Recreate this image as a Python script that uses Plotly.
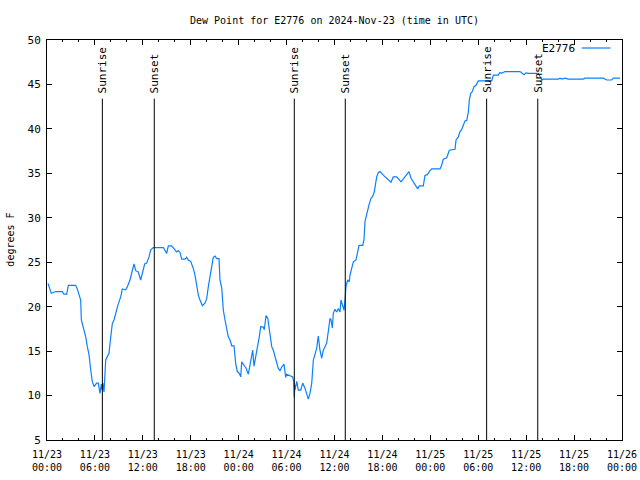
import pandas as pd
import plotly.graph_objects as go

# Hours since 2024-11-23 00:00 UTC, and dew point (degrees F)
hours = [
    0.13, 0.54, 1.09, 1.92, 2.13, 2.47, 2.67, 3.59, 3.79, 4.01, 4.22, 4.30, 4.55, 4.85,
    5.05, 5.26, 5.47, 5.67, 5.89, 6.10, 6.22, 6.42, 6.64, 6.80, 6.92, 7.00, 7.14, 7.35,
    7.76, 7.98, 8.18, 8.39, 8.60, 8.89, 9.23, 9.43, 9.85, 10.06, 10.39, 10.68, 10.89,
    11.11, 11.43, 11.73, 11.93, 12.23, 12.48, 12.77, 12.99, 13.31, 14.56, 14.78, 14.99,
    15.19, 15.61, 16.03, 16.24, 16.44, 16.65, 16.87, 17.28, 17.49, 17.69, 17.99, 18.32,
    18.53, 18.75, 18.95, 19.16, 19.45, 19.78, 20.00, 20.20, 20.41, 20.62, 20.82, 21.04,
    21.25, 21.54, 21.66, 21.88, 22.08, 22.29, 22.50, 22.70, 22.92, 23.13, 23.42, 23.63,
    23.83, 24.08, 24.26, 24.38, 24.67, 24.92, 25.21, 25.42, 25.63, 25.76, 25.92, 26.17,
    26.38, 26.58, 26.76, 27.09, 27.21, 27.42, 27.64, 27.84, 28.14, 28.34, 28.55, 28.76,
    28.96, 29.18, 29.39, 29.68, 29.89, 30.01, 30.77, 30.90, 30.97, 31.02, 31.05, 31.27,
    31.47, 31.77, 32.02, 32.31, 32.52, 32.72, 32.93, 33.15, 33.35, 33.56, 33.77, 33.97,
    34.18, 34.40, 34.60, 34.81, 35.02, 35.22, 35.44, 35.56, 35.73, 35.85, 36.06, 36.28,
    36.48, 36.69, 36.81, 37.03, 37.19, 37.32, 37.40, 37.44, 37.65, 37.85, 37.94, 38.15,
    38.36, 38.69, 38.86, 39.07, 39.53, 39.69, 39.82, 40.03, 40.23, 40.36, 40.57, 40.78,
    40.98, 41.11, 41.28, 41.49, 41.70, 42.11, 42.54, 43.08, 43.36, 43.79, 44.33, 44.83,
    45.33, 45.58, 45.87, 46.17, 46.42, 46.62, 47.12, 47.33, 47.62, 47.96, 48.17, 49.21,
    49.42, 49.62, 50.05, 50.38, 51.09, 51.22, 51.50, 51.72, 51.93, 52.13, 52.34, 52.56,
    52.76, 52.88, 53.06, 53.26, 53.47, 53.72, 54.01, 55.69, 55.89, 56.51, 56.72, 56.94,
    57.35, 59.23, 59.44, 59.73, 59.98, 60.27, 61.52, 61.73, 61.95, 62.15, 64.03, 64.24,
    64.45, 64.86, 65.28, 67.16, 67.37, 69.66, 70.09, 70.71, 70.91, 71.75,
]
dewpoint = [
    22.6, 21.5, 21.7, 21.7, 21.4, 21.4, 22.4, 22.4, 22.0, 21.3, 20.75, 18.5, 17.6, 16.6,
    15.5, 14.6, 12.9, 11.6, 11.0, 11.2, 11.4, 11.4, 10.25, 11.3, 10.6, 11.4, 10.4, 14.0,
    14.75, 16.6, 18.1, 18.5, 19.25, 20.2, 21.1, 22.0, 21.9, 22.25, 23.0, 23.9, 24.8,
    24.05, 23.9, 23.0, 23.7, 24.8, 24.9, 25.6, 26.4, 26.65, 26.65, 26.25, 26.0,
    26.85, 26.85, 26.4, 26.15, 26.3, 26.1, 25.35, 25.35, 25.55, 25.25, 25.1, 24.3,
    23.55, 22.4, 21.3, 20.75, 20.1, 20.4, 20.9, 22.25, 23.4, 24.7, 25.55, 25.7,
    25.4, 25.4, 23.0, 22.1, 19.6, 18.5, 17.4, 16.6, 16.25, 15.6, 15.6, 13.6,
    12.7, 12.5, 12.1, 13.8, 13.4, 13.1, 12.4, 13.4, 14.75, 15.1, 13.3, 14.45,
    15.7, 16.6, 17.75, 17.7, 17.4, 19.0, 18.7, 17.2, 15.5, 15.1, 14.4, 13.4,
    13.05, 12.8, 13.2, 13.55, 12.05, 12.4, 12.1, 11.5, 9.8, 11.2, 10.6, 11.6,
    10.6, 10.6, 11.4, 10.8, 10.1, 9.6, 10.25, 11.4, 14.0, 14.8, 15.3, 16.7,
    15.1, 14.2, 15.1, 15.5, 15.9, 17.2, 18.7, 18.5, 17.6, 19.25, 19.7, 19.4,
    19.8, 19.4, 20.75, 20.1, 19.6, 20.8, 21.4, 22.3, 23.0, 22.8, 23.55, 24.5,
    25.05, 25.25, 26.0, 26.9, 26.9, 27.5, 29.6, 30.5, 31.1, 31.6, 32.2, 32.4,
    32.9, 33.7, 34.6, 35.1, 35.2, 34.8, 34.45, 34.0, 34.6, 34.6, 34.05, 34.6,
    35.2, 34.45, 34.05, 33.7, 33.25, 33.6, 33.6, 34.75, 34.85, 35.3, 35.5, 35.5,
    35.9, 36.6, 36.75, 37.6, 37.7, 38.75, 39.1, 39.7, 39.95, 40.4, 40.9, 40.95,
    41.9, 43.25, 44.0, 44.2, 44.75, 44.9, 45.4, 45.4, 46.05, 46.05, 46.35, 46.25,
    46.45, 46.45, 46.3, 46.1, 46.3, 46.25, 46.25, 45.9, 45.5, 45.6, 45.6, 45.7,
    45.6, 45.7, 45.6, 45.6, 45.7, 45.7, 45.5, 45.5, 45.7, 45.7,
]

event_times = ["2024-11-23 06:56", "2024-11-23 13:26", "2024-11-24 06:58",
               "2024-11-24 13:21", "2024-11-25 07:03", "2024-11-25 13:27"]
event_labels = ["Sunrise", "Sunset", "Sunrise", "Sunset", "Sunrise", "Sunset"]

tick_times = pd.date_range("2024-11-23 00:00", "2024-11-26 00:00", freq="6h")
tick_text = [t.strftime("%m/%d<br>%H:%M") for t in tick_times]

station = "E2776"
title = "Dew Point for E2776 on 2024-Nov-23 (time in UTC)"
ylabel = "degrees F"

base = pd.Timestamp("2024-11-23 00:00")
times = [base + pd.Timedelta(hours=h) for h in hours]

FONT = "DejaVu Sans Mono"
LINE_COLOR = "#0a80ff"

fig = go.Figure()
fig.add_trace(go.Scatter(x=times, y=dewpoint, mode="lines",
                         line=dict(color=LINE_COLOR, width=1.2), showlegend=False))

for t, lab in zip(event_times, event_labels):
    fig.add_shape(type="line", xref="x", yref="y", x0=t, x1=t, y0=5, y1=43.4,
                  line=dict(color="black", width=1))
    fig.add_annotation(x=t, y=43.8, xref="x", yref="y", text=lab, textangle=-90,
                       showarrow=False, xanchor="center", yanchor="bottom",
                       font=dict(family=FONT, size=11, color="black"))

# legend (text left of sample line, gnuplot style)
fig.add_annotation(x=0.922, y=0.98, xref="paper", yref="paper", text=station,
                   showarrow=False, xanchor="right", yanchor="middle",
                   font=dict(family=FONT, size=11, color="black"))
fig.add_shape(type="line", xref="paper", yref="paper", x0=0.930, x1=0.980,
              y0=0.98, y1=0.98, line=dict(color=LINE_COLOR, width=1.2))

fig.add_annotation(x=-0.065, y=0.5, xref="paper", yref="paper", text=ylabel,
                   textangle=-90, showarrow=False, xanchor="center", yanchor="middle",
                   font=dict(family=FONT, size=10, color="black"))

fig.update_layout(
    width=640, height=480,
    margin=dict(l=47, r=18, t=40, b=40, autoexpand=False),
    paper_bgcolor="white", plot_bgcolor="white",
    title=dict(text=title, x=0.5, xref="paper", y=0.958, yref="container",
               xanchor="center", yanchor="middle",
               font=dict(family=FONT, size=10, color="black")),
    font=dict(family=FONT, size=10, color="black"),
    showlegend=False,
)
fig.update_xaxes(
    type="date", range=[tick_times[0], tick_times[-1]], automargin=False,
    tickvals=tick_times, ticktext=tick_text, ticklabelstandoff=5,
    ticks="inside", ticklen=5, tickcolor="black", tickwidth=1,
    showline=True, linecolor="black", linewidth=1, mirror="ticks",
    showgrid=False, zeroline=False,
    minor=dict(dtick=2 * 3600 * 1000, ticks="inside", ticklen=2,
               tickcolor="black", showgrid=False),
    tickfont=dict(family=FONT, size=10, color="black"),
)
fig.update_yaxes(
    range=[5, 50], dtick=5, tick0=5, automargin=False, ticklabelstandoff=3,
    ticks="inside", ticklen=5, tickcolor="black", tickwidth=1,
    showline=True, linecolor="black", linewidth=1, mirror="ticks",
    showgrid=False, zeroline=False,
    tickfont=dict(family=FONT, size=11, color="black"),
)

fig.write_html("out.html")
